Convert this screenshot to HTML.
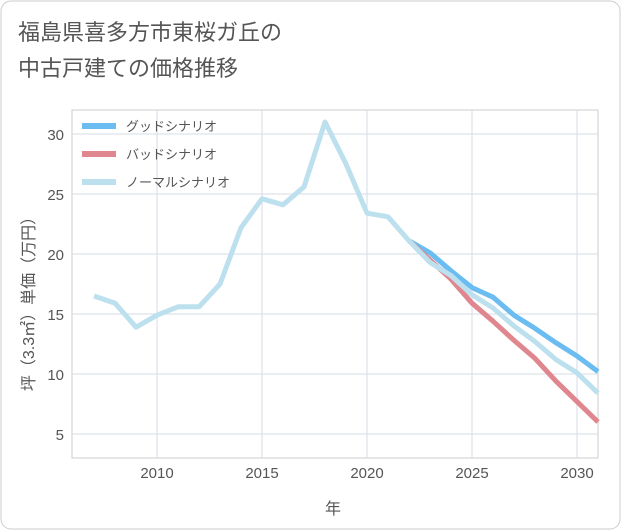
<!DOCTYPE html>
<html><head><meta charset="utf-8">
<style>
body{margin:0;background:#fff;font-family:"Liberation Sans","Noto Sans CJK JP",sans-serif;}
#wrap{position:relative;width:621px;height:530px;}
</style></head>
<body>
<div id="wrap">
<svg id="chart" width="621" height="530" style="position:absolute;left:0;top:0">
<rect x="1" y="1" width="619" height="528" rx="10" fill="#fff" stroke="#ccc"/>
<text x="18" y="40" font-size="22" fill="#555" font-family="Liberation Sans,Noto Sans CJK JP,sans-serif">福島県喜多方市東桜ガ丘の</text>
<text x="18" y="76" font-size="22" fill="#555" font-family="Liberation Sans,Noto Sans CJK JP,sans-serif">中古戸建ての価格推移</text>
<rect x="72" y="110" width="526" height="348" fill="none" stroke="#ccc"/>
<g id="grid"></g>
<g id="series"></g>
<text x="333" y="514" font-size="16" fill="#555" text-anchor="middle" font-family="Liberation Sans,Noto Sans CJK JP,sans-serif">年</text>
<text transform="translate(34,300) rotate(-90)" font-size="16" fill="#555" text-anchor="middle" font-family="Liberation Sans,Noto Sans CJK JP,sans-serif">坪（3.3㎡）単価（万円）</text>
<g id="legend"></g>
</svg>
</div>
<script>
const years=[2007,2008,2009,2010,2011,2012,2013,2014,2015,2016,2017,2018,2019,2020,2021,2022,2023,2024,2025,2026,2027,2028,2029,2030,2031];
const normal=[16.5,15.9,13.9,14.9,15.6,15.6,17.5,22.2,24.6,24.1,25.6,31.0,27.5,23.4,23.1,21.1,19.3,18.2,16.6,15.5,14.0,12.7,11.2,10.1,8.4];
const futureYears=[2022,2023,2024,2025,2026,2027,2028,2029,2030,2031];
const good=[21.1,20.1,18.6,17.2,16.4,14.9,13.8,12.6,11.5,10.2];
const bad=[21.1,19.5,17.9,15.9,14.4,12.8,11.3,9.4,7.7,6.0];
const xTicks=[2010,2015,2020,2025,2030];
const yTicks=[5,10,15,20,25,30];
const names=["グッドシナリオ","バッドシナリオ","ノーマルシナリオ"];
const colors=["#6bbcf0","#e0868f","#bde0ee"];
const NS="http://www.w3.org/2000/svg";
const X0=72,X1=598,Y0=458,Y1=110,xmin=2005.95,xmax=2031,ymin=3,ymax=32;
const sx=v=>X0+(v-xmin)/(xmax-xmin)*(X1-X0);
const sy=v=>Y0-(v-ymin)/(ymax-ymin)*(Y0-Y1);
function mk(t,a,p){const e=document.createElementNS(NS,t);for(const k in a)e.setAttribute(k,a[k]);p.appendChild(e);return e;}
const grid=document.getElementById('grid');
xTicks.forEach(v=>{
 const l=mk('line',{x1:sx(v),x2:sx(v),y1:Y1,y2:Y0,stroke:'#d5dde5'},grid);
 
 
 const t=mk('text',{x:sx(v),y:478,'font-size':15,fill:'#555','text-anchor':'middle'},grid);
 t.textContent=v;
 
 
});
yTicks.forEach(v=>{
 const l=mk('line',{x1:X0,x2:X1,y1:sy(v),y2:sy(v),stroke:'#d5dde5'},grid);
 
 
 const t=mk('text',{x:64,y:sy(v)+6,'font-size':15,fill:'#555','text-anchor':'end'},grid);
 t.textContent=v;
 
 
});
const ser=document.getElementById('series');
function line(xs,ys,c,name){
 const p=mk('polyline',{points:xs.map((x,i)=>sx(x)+','+sy(ys[i])).join(' '),fill:'none',stroke:c,'stroke-width':5,'stroke-linejoin':'round'},ser);
 
 
}
line(futureYears,good,colors[0],'good-scenario-line');
line(futureYears,bad,colors[1],'bad-scenario-line');
line(years,normal,colors[2],'normal-scenario-line');
const lg=document.getElementById('legend');
names.forEach((n,i)=>{
 const y=126+i*28;
 const l=mk('line',{x1:82,x2:116,y1:y,y2:y,stroke:colors[i],'stroke-width':6},lg);
 
 
 const t=mk('text',{x:126,y:y+5,'font-size':13,fill:'#555'},lg);
 t.textContent=n;
 
 
});
</script>
</body></html>
